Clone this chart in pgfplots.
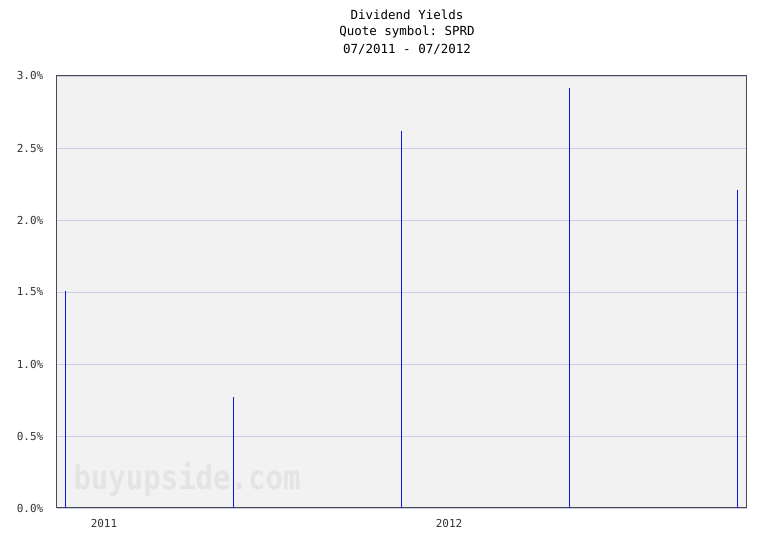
\documentclass[border=0pt]{standalone}
\usepackage{pgfplots}
\pgfplotsset{compat=1.18}
\usepackage{fontspec}
\setmainfont{DejaVu Sans}
\setmonofont{DejaVu Sans Mono}
\definecolor{bgc}{HTML}{F2F2F2}
\definecolor{gridc}{HTML}{CACAEA}
\definecolor{framec}{HTML}{4A4A4A}
\definecolor{linec}{HTML}{1010E0}
\definecolor{wmc}{HTML}{E4E4E4}
\definecolor{labc}{HTML}{333333}
\begin{document}
\begin{tikzpicture}
\begin{axis}[
  set layers=standard,
  scale only axis,
  width=690pt, height=432pt,
  xmin=56.5, xmax=746.5,
  ymin=0, ymax=3,
  axis background/.style={fill=bgc},
  axis line style={draw=framec, line width=1pt},
  ytick={0,0.5,1,1.5,2,2.5,3},
  yticklabel={\pgfmathprintnumber[fixed,fixed zerofill,precision=1,assume math mode=true]{\tick}\%},
  xtick={104,449},
  xticklabels={2011,2012},
  major tick length=0pt,
  ymajorgrids,
  grid style={draw=gridc, line width=0.8pt},
  tick label style={font=\ttfamily\fontsize{11}{13}\selectfont, text=labc},
  yticklabel style={anchor=east, inner sep=0pt, xshift=-13pt},
  xticklabel style={anchor=north, inner sep=0pt, yshift=-11pt},
  clip=false,
]
\coordinate (SW) at (rel axis cs:0,0);
\begin{pgfonlayer}{pre main}
\node[text=wmc, font=\ttfamily\bfseries\fontsize{29}{30}\selectfont, yscale=1.15, inner sep=0pt] at (axis cs:187,0.2) {buyupside.com};
\end{pgfonlayer}
\addplot[ycomb, draw=linec, line width=1pt, no marks] coordinates {
  (65,1.51) (233,0.77) (401,2.62) (569,2.915) (737,2.21)
};
\end{axis}
\useasboundingbox ([shift={(-56.5pt,-32pt)}]SW) rectangle +(768pt,540pt);
\node[font=\ttfamily\fontsize{12.5}{14}\selectfont, inner sep=0pt] at ([shift={(350.5pt,493pt)}]SW) {Dividend Yields};
\node[font=\ttfamily\fontsize{12.5}{14}\selectfont, inner sep=0pt] at ([shift={(350.5pt,476pt)}]SW) {Quote symbol: SPRD};
\node[font=\ttfamily\fontsize{12.5}{14}\selectfont, inner sep=0pt] at ([shift={(350.5pt,459pt)}]SW) {07/2011 - 07/2012};
\end{tikzpicture}
\end{document}
